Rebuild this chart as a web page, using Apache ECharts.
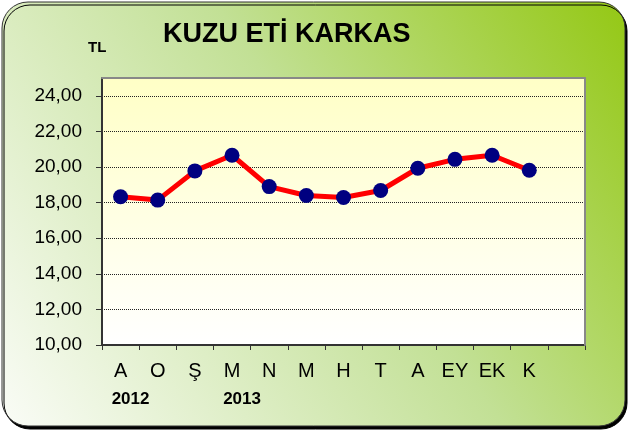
<!DOCTYPE html>
<html>
<head>
<meta charset="utf-8">
<script src="https://cdn.jsdelivr.net/npm/echarts@6/dist/echarts.min.js"></script>
<style>
  html, body { margin: 0; padding: 0; background: #fff; }
  #main { width: 630px; height: 432px; }
</style>
</head>
<body>
<div id="main"></div>
<script>
// aylar (13. kategori boş bırakılmış)
var months = ['A', 'O', 'Ş', 'M', 'N', 'M', 'H', 'T', 'A', 'EY', 'EK', 'K', ''];
var years = ['2012', '', '', '2013', '', '', '', '', '', '', '', '', ''];
// TL fiyatlar
var prices = [18.33, 18.14, 19.78, 20.66, 18.9, 18.4, 18.29, 18.68, 19.93, 20.43, 20.66, 19.82];

var font = 'Liberation Sans';
var myChart = echarts.init(document.getElementById('main'));

var option = {
  animation: false,
  textStyle: { fontFamily: font },
  graphic: [
    {
      type: 'rect',
      z: -10,
      shape: { x: 2, y: 2, width: 623, height: 424, r: 26 },
      style: {
        fill: new echarts.graphic.LinearGradient(1, 0, 0, 1, [
          { offset: 0, color: '#94c814' },
          { offset: 0.45, color: '#c2e095' },
          { offset: 1, color: '#fafcf7' }
        ]),
        stroke: '#333',
        lineWidth: 1,
        shadowColor: '#000',
        shadowOffsetX: 2,
        shadowOffsetY: 3
      }
    },
    {
      type: 'text',
      left: 88,
      top: 40,
      style: { text: 'TL', fill: '#000', font: 'bold 15px ' + font }
    }
  ],
  title: {
    text: 'KUZU ETİ KARKAS',
    left: 158,
    top: 16,
    textStyle: { fontFamily: font, fontSize: 27, fontWeight: 'bold', color: '#000' }
  },
  grid: {
    left: 102, right: 45, top: 78, bottom: 87,
    show: true,
    borderWidth: 0,
    backgroundColor: new echarts.graphic.LinearGradient(0, 0, 0, 1, [
      { offset: 0, color: '#ffffc6' },
      { offset: 1, color: '#ffffff' }
    ])
  },
  xAxis: [
    {
      type: 'category',
      data: months,
      position: 'bottom',
      boundaryGap: true,
      axisLine: { lineStyle: { color: '#333', width: 2 } },
      axisTick: { show: true, length: 5, lineStyle: { color: '#333' } },
      axisLabel: { color: '#000', fontSize: 20, margin: 16, interval: 0 }
    },
    {
      type: 'category',
      data: years,
      position: 'bottom',
      offset: 38,
      axisLine: { show: false },
      axisTick: { show: false },
      axisLabel: { color: '#000', fontSize: 17, fontWeight: 'bold', interval: 0, padding: [0, 0, 0, 20] }
    },
    {
      type: 'category',
      data: months,
      position: 'top',
      z: 5,
      axisLine: { lineStyle: { color: '#888', width: 2 } },
      axisTick: { show: false },
      axisLabel: { show: false }
    }
  ],
  yAxis: [
    {
      type: 'value',
      min: 10,
      max: 25,
      interval: 2,
      axisLine: { show: true, lineStyle: { color: '#333', width: 2 } },
      axisTick: { show: true, length: 6, lineStyle: { color: '#333' } },
      axisLabel: {
        color: '#000', fontSize: 19, margin: 20, showMaxLabel: false,
        formatter: function (v) { return v.toFixed(2).replace('.', ','); }
      },
      splitLine: { lineStyle: { color: '#222', type: [1, 1], width: 1 } }
    },
    {
      type: 'value',
      position: 'right',
      min: 10,
      max: 25,
      z: 5,
      axisLine: { show: true, lineStyle: { color: '#888', width: 2 } },
      axisTick: { show: false },
      axisLabel: { show: false },
      splitLine: { show: false }
    }
  ],
  series: [
    {
      type: 'line',
      data: prices,
      symbol: 'circle',
      symbolSize: 15,
      lineStyle: { color: '#ff0000', width: 5 },
      itemStyle: { color: '#000080' }
    }
  ]
};

myChart.setOption(option);
</script>
</body>
</html>
